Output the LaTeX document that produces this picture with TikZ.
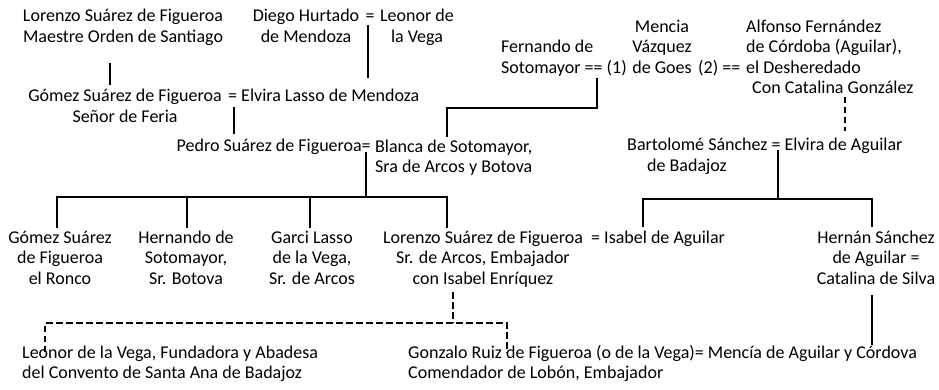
\documentclass[tikz,border=0pt]{standalone}
\usepackage{fontspec}
\setmainfont{Carlito}
\tikzset{
  lbl/.style={inner sep=0pt, font=\fontsize{18}{20.5}\selectfont},
  link/.style={line width=2.6pt},
  dlink/.style={line width=2.6pt, dash pattern=on 6.5pt off 3.5pt},
}
\begin{document}
\begin{tikzpicture}[x=1pt,y=-1pt]
\useasboundingbox (0,0) rectangle (939,390);
% generation 1 (base anchor = baseline of the last line)
\node[lbl,align=center,anchor=base] (lorA) at (123,42.5) {Lorenzo Suárez de Figueroa\\Maestre Orden de Santiago};
\node[lbl,align=center,anchor=base] (diego) at (306,42.5) {Diego Hurtado\\de Mendoza};
\node[lbl,anchor=base] (eqA) at (370,22) {=};
\node[lbl,align=center,anchor=base] (leonA) at (417,42.5) {Leonor de\\la Vega};
\node[lbl,align=left,anchor=base west] (fern) at (501,73.5) {Fernando de\\Sotomayor == (1)};
\node[lbl,align=center,anchor=base] (mencia) at (662,73.5) {Mencia\\Vázquez\\de Goes};
\node[lbl,anchor=base west] (two) at (698,73.5) {(2) ==};
\node[lbl,align=left,anchor=base west] (alf) at (746,73.5) {Alfonso Fernández\\de Córdoba (Aguilar),\\el Desheredado};
\node[lbl,anchor=base west] (cata) at (752,93.5) {Con Catalina González};
% generation 2
\node[lbl,align=center,anchor=base] (gomA) at (125,122.5) {Gómez Suárez de Figueroa\\Señor de Feria};
\node[lbl,anchor=base west] (elvira) at (228,102) {= Elvira Lasso de Mendoza};
% generation 3
\node[lbl,anchor=base east] (pedro) at (362,152) {Pedro Suárez de Figueroa};
\node[lbl,anchor=base] (eqB) at (366,152) {=};
\node[lbl,align=left,anchor=base west] (blanca) at (375,172.5) {Blanca de Sotomayor,\\Sra de Arcos y Botova};
\node[lbl,anchor=base west] (bart) at (627,151) {Bartolomé Sánchez = Elvira de Aguilar};
\node[lbl,anchor=base west] (bada) at (647,172) {de Badajoz};
% generation 4
\node[lbl,align=center,anchor=base] (gomB) at (60,284) {Gómez Suárez\\de Figueroa\\el Ronco};
\node[lbl,align=center,anchor=base] (hern) at (186,284) {Hernando de\\Sotomayor,\\Sr. Botova};
\node[lbl,align=center,anchor=base] (garci) at (312,284) {Garci Lasso\\de la Vega,\\Sr. de Arcos};
\node[lbl,align=center,anchor=base] (lorB) at (483,284) {Lorenzo Suárez de Figueroa\\Sr. de Arcos, Embajador\\con Isabel Enríquez};
\node[lbl,anchor=base west] (isabel) at (591,243) {= Isabel de Aguilar};
\node[lbl,align=center,anchor=base] (hernan) at (876,284) {Hernán Sánchez\\de Aguilar =\\Catalina de Silva};
% generation 5
\node[lbl,align=left,anchor=base west] (leonB) at (22,378.5) {Leonor de la Vega, Fundadora y Abadesa\\del Convento de Santa Ana de Badajoz};
\node[lbl,align=left,anchor=base west] (gonz) at (408,378.5) {Gonzalo Ruiz de Figueroa (o de la Vega)= Mencía de Aguilar y Córdova\\Comendador de Lobón, Embajador};
% connector points
\coordinate (lorAd) at (110,63);  \coordinate (gomAu) at (110,85);
\coordinate (diegoD) at (368,25); \coordinate (elviraU) at (368,78);
\coordinate (gomAd) at (234,107); \coordinate (pedroU) at (234,134);
\coordinate (fernD) at (597,78);  \coordinate (blancaU) at (447,137);
\coordinate (pedroD) at (366,152); \coordinate (busA) at (366,197);
\coordinate (kidA) at (57,228); \coordinate (kidB) at (187,228);
\coordinate (kidC) at (310,228); \coordinate (kidD) at (447,228);
\coordinate (cataD) at (845,97); \coordinate (bartU) at (845,131);
\coordinate (bartD) at (778,150); \coordinate (busB) at (778,199);
\coordinate (kidE) at (643,227); \coordinate (kidF) at (872,227);
\coordinate (hernanD) at (872,295); \coordinate (gonzR) at (872,345);
\coordinate (lorBd) at (453,292); \coordinate (busC) at (453,323);
\coordinate (leonBu) at (45,352); \coordinate (gonzU) at (507,353);
% solid connectors
\draw[link] (lorAd) -- (gomAu);
\draw[link] (diegoD) -- (elviraU);
\draw[link] (gomAd) -- (pedroU);
\draw[link] (fernD) |- (blancaU |- 0,108) -- (blancaU);
\draw[link] (pedroD) -- (busA);
\draw[link] (kidA) -- (kidA |- busA) -- (kidD |- busA) -- (kidD);
\draw[link] (kidB |- busA) -- (kidB);
\draw[link] (kidC |- busA) -- (kidC);
\draw[link] (bartD) -- (busB);
\draw[link] (kidE) -- (kidE |- busB) -- (kidF |- busB) -- (kidF);
\draw[link] (hernanD) -- (gonzR);
% dashed connectors
\draw[dlink] (cataD) -- (bartU);
\draw[dlink] (lorBd) -- (busC);
\draw[dlink] (leonBu) -- (leonBu |- busC) -- (gonzU |- busC) -- (gonzU);
\end{tikzpicture}
\end{document}
